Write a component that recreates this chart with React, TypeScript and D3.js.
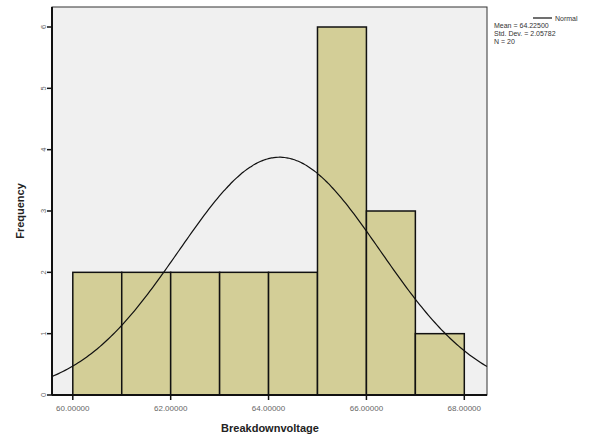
import React from "react";
import * as d3 from "d3";

const binStarts = [60, 61, 62, 63, 64, 65, 66, 67];
const binCounts = [2, 2, 2, 2, 2, 6, 3, 1];
const binWidth = 1;
const xTicks = [60, 62, 64, 66, 68];
const yTicks = [0, 1, 2, 3, 4, 5, 6];
const mean = 64.225;
const sd = 2.05782;
const n = 20;
const legendLines = ["Mean = 64.22500", "Std. Dev. = 2.05782", "N = 20"];

export default function App() {
  const W = 598, H = 438;
  const left = 52, right = 487, top = 7, bottom = 395;
  const x = d3.scaleLinear().domain([60, 68]).range([72.8, 464.3]);
  const xMin = x.invert(left), xMax = x.invert(right);
  const y = d3.scaleLinear().domain([0, 6]).range([bottom, 27]);

  const pdf = (v: number) =>
    (n * binWidth) / (sd * Math.sqrt(2 * Math.PI)) * Math.exp(-0.5 * ((v - mean) / sd) ** 2);
  const pts = d3.range(0, 201).map(i => xMin + (i / 200) * (xMax - xMin));
  const line = d3.line<number>().x(v => x(v)).y(v => y(pdf(v))).curve(d3.curveBasis);

  const font = "Arial, 'Liberation Sans', sans-serif";
  return (
    <svg width={W} height={H} style={{ position: "absolute", left: 0, top: 0 }}>
      <rect x={0} y={0} width={W} height={H} fill="#fff" />
      <rect x={left} y={top} width={right - left} height={bottom - top} fill="#f0f0f0" stroke="#333" strokeWidth={1} />
      {binStarts.map((b, i) => (
        <rect key={i} x={x(b)} y={y(binCounts[i])} width={x(b + binWidth) - x(b)} height={bottom - y(binCounts[i])}
          fill="#d3ce97" stroke="#111" strokeWidth={1.5} />
      ))}
      <path d={line(pts) || ""} fill="none" stroke="#111" strokeWidth={1.2} />
      <line x1={left} x2={left} y1={top} y2={bottom} stroke="#111" strokeWidth={2} />
      <line x1={left} x2={right} y1={bottom} y2={bottom} stroke="#111" strokeWidth={2} />
      {yTicks.map(t => (
        <g key={t}>
          <line x1={left - 5} x2={left} y1={y(t)} y2={y(t)} stroke="#111" strokeWidth={1.5} />
          <text transform={`translate(${left - 9},${y(t)}) rotate(-90)`} textAnchor="middle" dy="0.35em"
            fontSize={7.5} fill="#666" fontFamily={font}>{t}</text>
        </g>
      ))}
      {xTicks.map(t => (
        <g key={t}>
          <line x1={x(t)} x2={x(t)} y1={bottom} y2={bottom + 5} stroke="#111" strokeWidth={1.5} />
          <text x={x(t)} y={bottom + 16} textAnchor="middle" fontSize={8} fill="#666" fontFamily={font}>
            {t.toFixed(5)}
          </text>
        </g>
      ))}
      <text x={270} y={432} textAnchor="middle" fontSize={11} fontWeight="bold" fill="#222" fontFamily={font}>
        Breakdownvoltage
      </text>
      <text transform={`translate(24,${(top + bottom) / 2 + 10}) rotate(-90)`} textAnchor="middle"
        fontSize={11} fontWeight="bold" fill="#222" fontFamily={font}>Frequency</text>
      <line x1={533} x2={552} y1={18} y2={18} stroke="#111" strokeWidth={1.2} />
      <text x={555} y={21} fontSize={7} fill="#333" fontFamily={font}>Normal</text>
      {legendLines.map((s, i) => (
        <text key={i} x={494} y={28 + i * 8} fontSize={7} fill="#333" fontFamily={font}>{s}</text>
      ))}
    </svg>
  );
}
